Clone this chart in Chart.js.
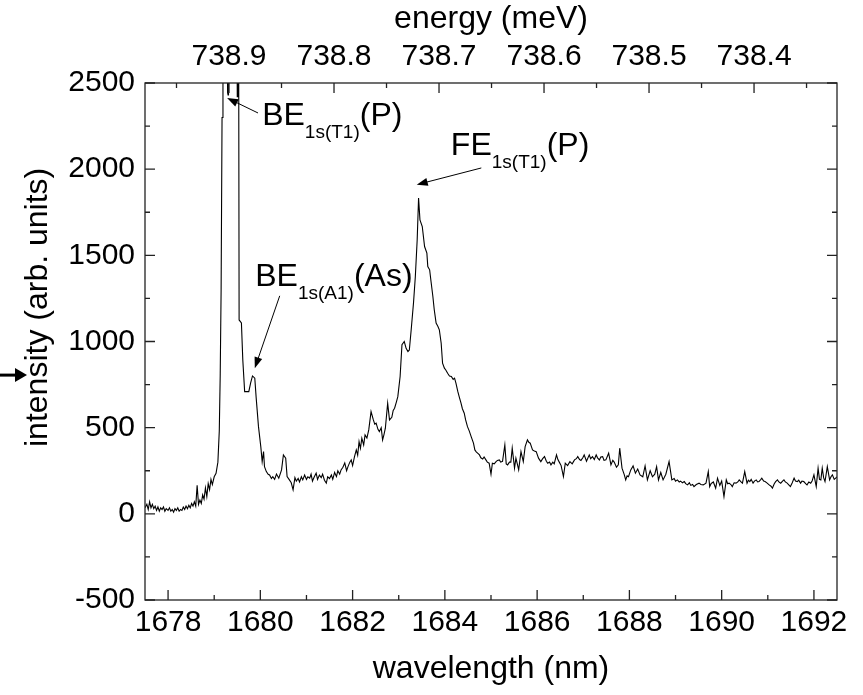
<!DOCTYPE html>
<html>
<head>
<meta charset="utf-8">
<script src="https://cdn.jsdelivr.net/npm/chart.js@4.4.1/dist/chart.umd.min.js"></script>
<style>
  body { margin: 0; background: #fff; }
  #wrap { width: 863px; height: 695px; }
</style>
</head>
<body>
<div id="wrap"><canvas id="myChart" width="863" height="695"></canvas></div>
<script>
// Datos del espectro
const wavelength = [
  1677.50,1677.54,1677.57,1677.60,1677.63,1677.66,1677.69,1677.72,1677.75,1677.78,
  1677.81,1677.84,1677.87,1677.90,1677.93,1677.96,1678.00,1678.03,1678.06,1678.09,
  1678.12,1678.15,1678.18,1678.21,1678.24,1678.27,1678.30,1678.33,1678.36,1678.39,
  1678.42,1678.45,1678.48,1678.51,1678.54,1678.57,1678.60,1678.63,1678.66,1678.69,
  1678.72,1678.75,1678.78,1678.81,1678.84,1678.87,1678.90,1678.93,1678.96,1679.00,
  1679.04,1679.08,1679.11,1679.13,1679.15,1679.17,1679.19,1679.28,1679.29,1679.30,
  1679.31,1679.49,1679.50,1679.51,1679.53,1679.54,1679.59,1679.62,1679.66,1679.75,
  1679.79,1679.83,1679.88,1679.91,1679.96,1680.01,1680.04,1680.07,1680.09,1680.13,
  1680.17,1680.20,1680.24,1680.27,1680.31,1680.35,1680.40,1680.46,1680.50,1680.55,
  1680.58,1680.63,1680.67,1680.71,1680.75,1680.78,1680.82,1680.85,1680.89,1680.92,
  1680.96,1681.00,1681.03,1681.07,1681.10,1681.13,1681.17,1681.21,1681.24,1681.28,
  1681.32,1681.35,1681.39,1681.43,1681.46,1681.50,1681.54,1681.57,1681.61,1681.65,
  1681.68,1681.72,1681.75,1681.79,1681.83,1681.87,1681.90,1681.94,1681.97,1682.00,
  1682.04,1682.08,1682.11,1682.14,1682.17,1682.20,1682.24,1682.27,1682.31,1682.35,
  1682.40,1682.45,1682.48,1682.51,1682.55,1682.58,1682.62,1682.65,1682.68,1682.71,
  1682.76,1682.80,1682.85,1682.88,1682.91,1682.95,1682.98,1683.03,1683.07,1683.12,
  1683.16,1683.20,1683.23,1683.27,1683.32,1683.36,1683.40,1683.43,1683.46,1683.51,
  1683.56,1683.61,1683.63,1683.67,1683.70,1683.74,1683.77,1683.81,1683.85,1683.88,
  1683.92,1683.95,1683.99,1684.02,1684.06,1684.10,1684.14,1684.18,1684.21,1684.24,
  1684.28,1684.31,1684.35,1684.38,1684.42,1684.45,1684.49,1684.53,1684.57,1684.62,
  1684.65,1684.68,1684.71,1684.75,1684.78,1684.82,1684.85,1684.89,1684.92,1684.96,
  1685.00,1685.03,1685.07,1685.11,1685.14,1685.18,1685.21,1685.25,1685.30,1685.33,
  1685.36,1685.40,1685.43,1685.46,1685.51,1685.54,1685.57,1685.60,1685.65,1685.70,
  1685.74,1685.79,1685.82,1685.85,1685.90,1685.94,1685.98,1686.03,1686.08,1686.12,
  1686.16,1686.20,1686.23,1686.27,1686.30,1686.34,1686.37,1686.42,1686.45,1686.48,
  1686.52,1686.57,1686.61,1686.66,1686.71,1686.76,1686.81,1686.85,1686.88,1686.92,
  1686.95,1686.99,1687.02,1687.07,1687.13,1687.16,1687.20,1687.24,1687.28,1687.31,
  1687.35,1687.38,1687.42,1687.45,1687.49,1687.55,1687.60,1687.64,1687.67,1687.72,
  1687.76,1687.79,1687.84,1687.89,1687.92,1687.95,1687.98,1688.03,1688.08,1688.13,
  1688.18,1688.23,1688.29,1688.34,1688.39,1688.45,1688.50,1688.55,1688.59,1688.63,
  1688.68,1688.73,1688.79,1688.86,1688.92,1688.97,1689.00,1689.04,1689.08,1689.11,
  1689.15,1689.19,1689.22,1689.26,1689.30,1689.33,1689.37,1689.40,1689.45,1689.51,
  1689.55,1689.60,1689.66,1689.71,1689.74,1689.77,1689.82,1689.87,1689.91,1689.96,
  1690.00,1690.05,1690.10,1690.13,1690.16,1690.20,1690.23,1690.27,1690.31,1690.35,
  1690.38,1690.42,1690.45,1690.50,1690.55,1690.58,1690.61,1690.64,1690.68,1690.71,
  1690.75,1690.78,1690.81,1690.85,1690.87,1690.91,1690.94,1690.98,1691.03,1691.07,
  1691.10,1691.14,1691.17,1691.21,1691.24,1691.28,1691.32,1691.35,1691.38,1691.42,
  1691.45,1691.49,1691.53,1691.57,1691.60,1691.64,1691.67,1691.71,1691.74,1691.78,
  1691.82,1691.85,1691.89,1691.93,1691.96,1692.00,1692.05,1692.09,1692.12,1692.15,
  1692.18,1692.21,1692.24,1692.29,1692.34,1692.37,1692.40,1692.44,1692.47,1692.50
];
const intensity = [
  35,55,25,70,35,55,30,45,20,40,
  15,35,25,40,15,30,20,35,15,25,
  10,30,20,35,15,25,20,40,25,45,
  30,50,35,60,45,70,45,165,55,80,
  60,110,85,150,100,175,140,200,170,215,
  235,300,480,800,1300,2300,3200,3200,2445,2430,
  3200,3200,2420,3200,2800,1125,1108,893,709,709,
  760,800,787,673,506,390,303,361,274,245,
  230,226,205,216,200,231,207,255,342,323,
  216,197,180,139,210,190,205,185,215,197,
  225,200,215,207,230,190,215,236,200,225,
  210,230,195,178,215,205,226,200,240,216,
  250,230,255,270,295,250,274,300,313,280,
  330,371,340,419,380,439,400,458,440,487,
  593,545,520,526,490,477,500,429,460,497,
  642,545,560,600,613,650,680,797,981,1000,
  960,942,950,1068,1223,1377,1590,1832,1706,1667,
  1551,1513,1435,1416,1348,1261,1184,1107,1087,1068,
  990,874,845,835,816,800,797,780,787,758,
  710,680,642,610,584,545,506,480,448,410,
  371,360,352,342,325,318,330,313,300,294,
  230,294,290,303,310,313,300,305,400,290,
  284,300,300,381,265,323,290,255,361,303,
  390,429,415,410,371,365,361,323,303,320,
  332,305,294,300,284,300,290,342,315,300,
  280,216,294,280,303,290,313,320,332,315,
  310,325,342,305,342,320,332,315,342,325,
  313,330,332,310,313,352,284,310,300,270,
  284,381,265,226,197,220,215,255,278,236,
  260,226,215,278,197,250,215,230,274,197,
  240,197,230,303,197,205,190,197,185,190,
  180,187,175,168,180,165,170,158,170,178,
  170,168,178,245,158,175,185,149,207,165,
  190,100,197,175,178,170,158,180,178,185,
  197,185,178,245,178,195,187,200,178,190,
  197,185,187,200,207,190,187,180,168,160,
  149,175,187,197,185,178,190,197,185,178,
  170,158,180,207,190,187,195,178,190,187,
  175,168,185,178,190,226,158,265,200,197,
  265,210,187,274,197,215,226,200,207,215
];

// Ejes y marcas
const xTicks = [1678, 1680, 1682, 1684, 1686, 1688, 1690, 1692];
const xMinor = [1679, 1681, 1683, 1685, 1687, 1689, 1691];
const yTicks = [-500, 0, 500, 1000, 1500, 2000, 2500];
const yMinor = [-250, 250, 750, 1250, 1750, 2250];
const energyTicks = [738.9, 738.8, 738.7, 738.6, 738.5, 738.4];
const energyMinor = [738.95, 738.85, 738.75, 738.65, 738.55, 738.45, 738.35];

// Etiquetas de los picos: texto [contenido, subindice] y flecha (desde -> hasta)
const etiquetas = [
  { pos: [1680.04, 2258], partes: [['BE', 0], ['1s(T1)', 1], ['(P)', 0]], desde: [1679.95, 2326], hasta: [1679.28, 2413] },
  { pos: [1684.13, 2084], partes: [['FE', 0], ['1s(T1)', 1], ['(P)', 0]], desde: [1684.79, 2007], hasta: [1683.39, 1910] },
  { pos: [1679.89, 1323], partes: [['BE', 0], ['1s(A1)', 1], ['(As)', 0]], desde: [1680.42, 1265], hasta: [1679.88, 845] }
];

const fuente = '"Liberation Sans", Arial, sans-serif';
Chart.defaults.font.family = fuente;
Chart.defaults.color = '#000';

//Funciones auxiliares

function flecha(ctx, x1, y1, x2, y2, largo, ancho) {
  const ang = Math.atan2(y2 - y1, x2 - x1);
  ctx.beginPath();
  ctx.moveTo(x1, y1);
  ctx.lineTo(x2 - Math.cos(ang) * largo * 0.6, y2 - Math.sin(ang) * largo * 0.6);
  ctx.stroke();
  ctx.beginPath();
  ctx.moveTo(x2, y2);
  ctx.lineTo(x2 - Math.cos(ang) * largo - Math.sin(ang) * ancho, y2 - Math.sin(ang) * largo + Math.cos(ang) * ancho);
  ctx.lineTo(x2 - Math.cos(ang) * largo + Math.sin(ang) * ancho, y2 - Math.sin(ang) * largo - Math.cos(ang) * ancho);
  ctx.closePath();
  ctx.fill();
}

function textoConSub(ctx, x, y, partes) {
  let cx = x;
  for (const [txt, sub] of partes) {
    ctx.font = (sub ? '19px ' : '32px ') + fuente;
    ctx.fillText(txt, cx, sub ? y + 13 : y);
    cx += ctx.measureText(txt).width;
  }
}

const marcoPlugin = {
  id: 'marco',
  afterDatasetsDraw(chart) {
    const { ctx, chartArea: a, scales } = chart;
    ctx.save();
    ctx.strokeStyle = '#222';
    ctx.lineWidth = 1.3;
    ctx.strokeRect(a.left, a.top, a.right - a.left, a.bottom - a.top);
    ctx.beginPath();
    const linea = (x1, y1, x2, y2) => { ctx.moveTo(x1, y1); ctx.lineTo(x2, y2); };
    xTicks.forEach(v => { const p = scales.x.getPixelForValue(v); linea(p, a.bottom, p, a.bottom - 10); });
    xMinor.forEach(v => { const p = scales.x.getPixelForValue(v); linea(p, a.bottom, p, a.bottom - 5); });
    energyTicks.forEach(v => { const p = scales.xTop.getPixelForValue(v); linea(p, a.top, p, a.top + 10); });
    energyMinor.forEach(v => { const p = scales.xTop.getPixelForValue(v); linea(p, a.top, p, a.top + 5); });
    yTicks.forEach(v => {
      const p = scales.y.getPixelForValue(v);
      linea(a.left, p, a.left + 10, p);
      linea(a.right, p, a.right - 10, p);
    });
    yMinor.forEach(v => {
      const p = scales.y.getPixelForValue(v);
      linea(a.left, p, a.left + 5, p);
      linea(a.right, p, a.right - 5, p);
    });
    ctx.stroke();
    ctx.restore();
  }
};

const etiquetasPlugin = {
  id: 'etiquetas',
  afterDraw(chart) {
    const { ctx, scales } = chart;
    const px = v => scales.x.getPixelForValue(v);
    const py = v => scales.y.getPixelForValue(v);
    ctx.save();
    ctx.fillStyle = '#000';
    ctx.strokeStyle = '#000';
    ctx.lineWidth = 1;
    ctx.textBaseline = 'alphabetic';
    ctx.textAlign = 'left';
    for (const e of etiquetas) {
      textoConSub(ctx, px(e.pos[0]), py(e.pos[1]), e.partes);
      flecha(ctx, px(e.desde[0]), py(e.desde[1]), px(e.hasta[0]), py(e.hasta[1]), 11, 4);
    }
    // titulo del eje y
    ctx.save();
    ctx.translate(47, 447);
    ctx.rotate(-Math.PI / 2);
    ctx.font = '32px ' + fuente;
    ctx.fillText('intensity (arb. units)', 0, 0);
    ctx.restore();
    // flecha suelta a la izquierda
    ctx.lineWidth = 3;
    flecha(ctx, 0, py(805), 27, py(805), 12, 7);
    ctx.restore();
  }
};

//Grafico

const ctx = document.getElementById('myChart').getContext('2d');

new Chart(ctx, {
  type: 'line',
  data: {
    datasets: [{
      data: wavelength.map((w, i) => ({ x: w, y: intensity[i] })),
      borderColor: '#000',
      borderWidth: 1.1,
      pointRadius: 0,
      fill: false,
      tension: 0
    }]
  },
  options: {
    responsive: false,
    animation: false,
    layout: { padding: { left: 0, right: 26, top: 0, bottom: 0 } },
    plugins: { legend: { display: false }, tooltip: { enabled: false } },
    scales: {
      x: {
        type: 'linear',
        position: 'bottom',
        min: 1677.5,
        max: 1692.5,
        afterBuildTicks: s => { s.ticks = xTicks.map(v => ({ value: v })); },
        afterFit: s => { s.height = 95; },
        grid: { display: false, drawTicks: false },
        border: { display: false },
        ticks: { font: { size: 30 }, padding: 5, maxRotation: 0, autoSkip: false, callback: v => String(v) },
        title: { display: true, text: 'wavelength (nm)', font: { size: 32 }, padding: { top: 0, bottom: 7 } }
      },
      xTop: {
        type: 'linear',
        axis: 'x',
        position: 'top',
        min: 738.321,
        max: 738.98,
        reverse: true,
        afterBuildTicks: s => { s.ticks = energyTicks.map(v => ({ value: v })); },
        afterFit: s => { s.height = 83; },
        grid: { display: false, drawTicks: false },
        border: { display: false },
        ticks: { font: { size: 30 }, padding: 8, maxRotation: 0, autoSkip: false, callback: v => v.toFixed(1) },
        title: { display: true, text: 'energy (meV)', font: { size: 32 }, padding: { top: 0, bottom: 0 } }
      },
      y: {
        type: 'linear',
        position: 'left',
        min: -500,
        max: 2500,
        afterBuildTicks: s => { s.ticks = yTicks.map(v => ({ value: v })); },
        afterFit: s => { s.width = 145; },
        grid: { display: false, drawTicks: false },
        border: { display: false },
        ticks: { font: { size: 30 }, padding: 10, autoSkip: false, callback: v => String(v) }
      }
    }
  },
  plugins: [marcoPlugin, etiquetasPlugin]
});
</script>
</body>
</html>
